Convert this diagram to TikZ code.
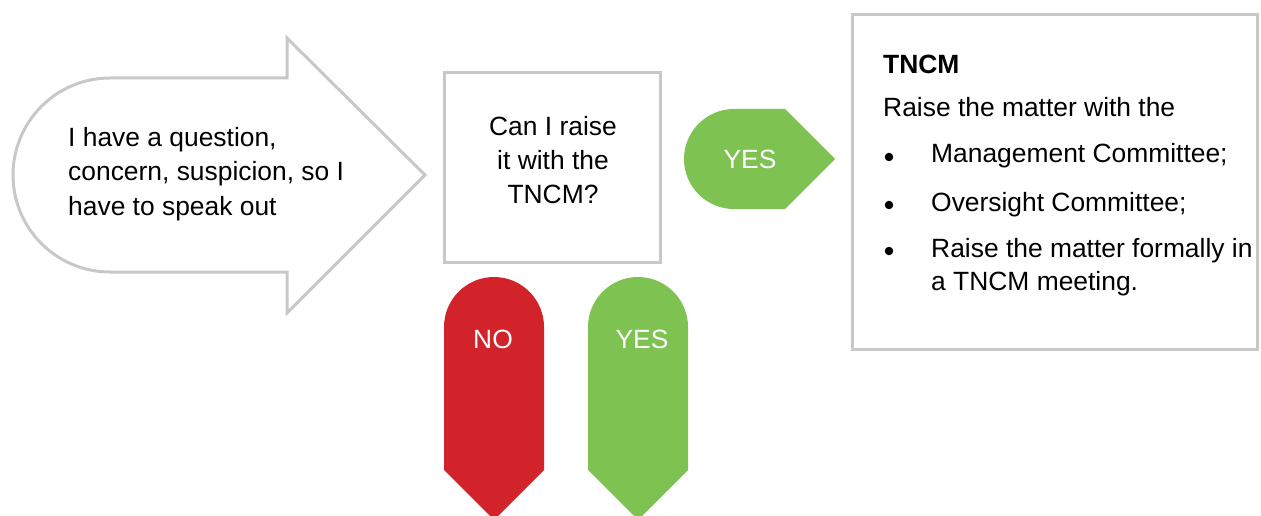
\documentclass[tikz,border=0pt]{standalone}
\usepackage{fontspec}
\setmainfont{Liberation Sans}
\usetikzlibrary{positioning}

\definecolor{noRed}{RGB}{210,35,42}
\definecolor{yesGreen}{RGB}{126,194,82}
\definecolor{frameGray}{RGB}{200,200,200}

\begin{document}
\begin{tikzpicture}[x=1pt, y=1pt, line join=miter,
  every node/.style={font=\fontsize{26.4}{34.5}\selectfont, inner sep=0pt},
  frame/.style={draw=frameGray, line width=3pt},
  tag/.style={text=white, anchor=base},
  bullet/.style={circle, fill=black, minimum size=8.5pt}]

  \useasboundingbox (0,0) rectangle (1261,515);

  % Speech arrow with the round tail.
  \draw[frame, fill=white] (110,437) -- (287,437) -- (287,477) -- (425,340)
    -- (287,202) -- (287,243) -- (110,243)
    arc[start angle=270, end angle=90, radius=97] -- cycle;
  % (multi-line nodes sit on the baseline of their last line)
  \node[anchor=base west, align=left] (worry) at (68,300)
    {I have a question,\\concern, suspicion, so I\\have to speak out};

  % Question box.
  \node[frame, minimum width=216, minimum height=190] (ask) at (552.5,347.5) {};
  \node[anchor=base, align=center, font=\fontsize{26.4}{33.5}\selectfont] (askText) at (553,312)
    {Can I raise\\it with the\\TNCM?};

  % Answer tags.
  \fill[yesGreen] (734,406) -- (785,406) -- (835,356) -- (785,306) -- (734,306)
    arc[start angle=270, end angle=90, radius=50] -- cycle;
  \node[tag] (yesRight) at (750,346) {YES};

  \fill[noRed] (444,188) arc[start angle=180, end angle=0, radius=50]
    -- (544,45) -- (494,-5) -- (444,45) -- cycle;
  \node[tag] (no) at (493,167) {NO};

  \fill[yesGreen] (588,188) arc[start angle=180, end angle=0, radius=50]
    -- (688,45) -- (638,-5) -- (588,45) -- cycle;
  \node[tag] (yesDown) at (642,167) {YES};

  % TNCM panel.
  \node[frame, minimum width=405, minimum height=335] (panel) at (1055,333) {};
  \node[anchor=base west, font=\fontsize{26.4}{34.5}\selectfont\bfseries] (tncm) at (883,441) {TNCM};
  \node[anchor=base west] (intro) at (883,398) {Raise the matter with the};
  \foreach \y/\ylast/\txt [count=\i] in {352/352/Management Committee;, 304/304/Oversight Committee;,
      258/225/{Raise the matter formally in\\a TNCM meeting.}} {
    \node[bullet] (dot\i) at (889,\y+6) {};
    \node[anchor=base west, align=left, font=\fontsize{26.4}{33}\selectfont] (item\i) at (931,\ylast) {\txt};
  }

\end{tikzpicture}
\end{document}
